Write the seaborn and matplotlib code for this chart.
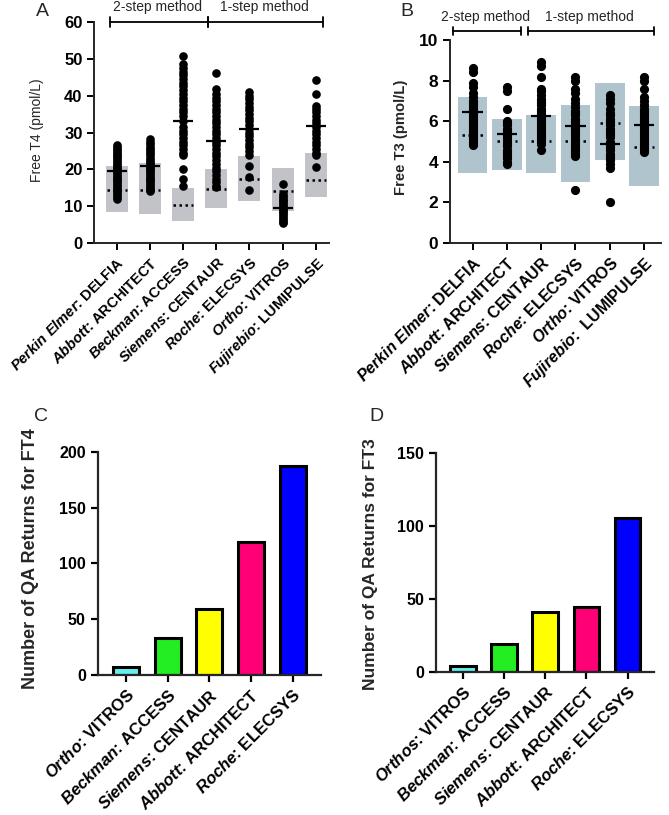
import numpy as np
import pandas as pd
import matplotlib
matplotlib.use("Agg")
import matplotlib.pyplot as plt
import seaborn as sns

# ── data: panel A (Free T4, pmol/L) ──────────────────────────────────────────
makers_a = ['Perkin Elmer', 'Abbott', 'Beckman', 'Siemens', 'Roche', 'Ortho', 'Fujirebio']
products_a = ['DELFIA', 'ARCHITECT', 'ACCESS', 'CENTAUR', 'ELECSYS', 'VITROS', 'LUMIPULSE']

ft4_perkin = [26.5, 26, 25.5, 25, 24.5, 24, 23.5, 23, 22.5, 22, 21.5, 21, 20.5, 20, 19.5,
              19, 18.5, 18, 17.5, 17, 16.5, 16, 15.5, 15, 14.5, 14, 13.5, 13, 12.5, 12]
ft4_abbott = [28.3, 27.5, 27, 26, 25.5, 25, 24.5, 24, 23, 22.5, 22, 21.5, 21, 20.5, 20,
              19.5, 19, 18.5, 18, 17.5, 17, 16.5, 16, 15.5, 15, 14.5, 14]
ft4_beckman = [50.8, 48.5, 47.5, 46.5, 45.5, 44.5, 43.5, 42.5, 41.5, 40.5, 39.5, 38.5, 37.5,
               36.5, 35.5, 34.5, 33, 31.6, 30.5, 29.5, 28.5, 27.5, 26.5, 25.5, 24.5, 23.8,
               20.2, 17.4, 15.5]
ft4_siemens = [46.2, 41.8, 40.5, 39.5, 38.5, 37.5, 36.5, 35.5, 34.5, 33.5, 32.5, 31.5, 30.5,
               29.5, 28.5, 27.5, 26.5, 25.5, 24.5, 23.5, 22.5, 21.5, 20.5, 19.5, 18.5, 17.5,
               16.5, 15.5, 15.1]
ft4_roche = [41, 40, 39, 38, 37, 36, 35, 34, 33, 32, 31, 30, 29, 28, 27, 26, 25, 24,
             21, 18, 14.3]
ft4_ortho = [16, 13.3, 12.8, 12.3, 11.8, 11.3, 10.8, 10.3, 9.8, 9.3, 8.8, 8.3, 7.8, 7.3,
             6.8, 6.3, 5.8, 5.4]
ft4_fuji = [44.2, 40.5, 37.3, 36.5, 35.5, 34.5, 33.5, 32.5, 31.5, 30.5, 29.5, 28.5, 27.5,
            26.5, 25.5, 24.5, 23.8, 20.6]

ft4_range_lo = [8.5, 7.9, 6.1, 9.6, 11.5, 8.8, 12.4]
ft4_range_hi = [20.9, 21.7, 14.9, 20.2, 23.6, 20.3, 24.4]
ft4_median = [19.6, 20.9, 33.2, 27.6, 30.9, 9.6, 31.7]
ft4_ref = [14.5, 14.5, 10.4, 14.8, 17.3, 14.2, 17.1]

# ── data: panel B (Free T3, pmol/L) ──────────────────────────────────────────
makers_b = ['Perkin Elmer', 'Abbott', 'Siemens', 'Roche', 'Ortho', 'Fujirebio']
products_b = ['DELFIA', 'ARCHITECT', 'CENTAUR', 'ELECSYS', 'VITROS', ' LUMIPULSE']

ft3_perkin = [8.6, 8.4, 7.9, 7.7, 7.4, 7.2, 7.0, 6.9, 6.8, 6.7, 6.6, 6.5, 6.4, 6.3, 6.2,
              6.1, 6.0, 5.9, 5.8, 5.7, 5.6, 5.5, 5.4, 5.3, 5.2, 5.1, 5.0, 4.9, 4.85]
ft3_abbott = [7.7, 7.5, 6.6, 6.0, 5.9, 5.8, 5.6, 5.5, 5.4, 5.3, 5.2, 5.1, 5.0, 4.9, 4.8,
              4.6, 4.5, 4.4, 4.3, 4.2, 4.0, 3.9]
ft3_siemens = [8.9, 8.7, 8.2, 7.6, 7.5, 7.3, 7.1, 7.0, 6.9, 6.8, 6.6, 6.5, 6.4, 6.3, 6.2,
               6.1, 6.0, 5.9, 5.8, 5.7, 5.6, 5.5, 5.4, 5.3, 5.2, 5.1, 5.0, 4.9, 4.6]
ft3_roche = [8.2, 8.0, 7.6, 7.4, 7.1, 6.9, 6.7, 6.5, 6.4, 6.3, 6.1, 6.0, 5.9, 5.8, 5.7,
             5.6, 5.5, 5.4, 5.3, 5.2, 5.1, 5.0, 4.9, 4.8, 4.7, 4.6, 4.5, 4.4, 4.3, 2.6]
ft3_ortho = [7.3, 7.1, 6.9, 6.6, 6.4, 6.3, 6.1, 6.0, 5.9, 5.8, 5.6, 5.5, 5.4, 5.3, 5.2,
             5.0, 4.9, 4.8, 4.7, 4.6, 4.4, 4.3, 4.2, 4.1, 3.9, 3.7, 2.0]
ft3_fuji = [8.2, 8.0, 7.6, 7.2, 7.0, 6.8, 6.6, 6.5, 6.4, 6.3, 6.2, 6.1, 6.0, 5.9, 5.8,
            5.7, 5.6, 5.5, 5.4, 5.3, 5.2, 5.1, 5.0, 4.9, 4.8, 4.7, 4.6, 4.5]

ft3_range_lo = [3.43, 3.62, 3.43, 3.02, 4.08, 2.81]
ft3_range_hi = [7.18, 6.12, 6.33, 6.82, 7.87, 6.73]
ft3_median = [6.45, 5.36, 6.24, 5.75, 4.87, 5.80]
ft3_ref = [5.31, 5.03, 5.03, 5.03, 5.91, 4.73]

# ── data: panels C and D (QA returns) ────────────────────────────────────────
makers_c = ['Ortho', 'Beckman', 'Siemens', 'Abbott', 'Roche']
products_c = ['VITROS', 'ACCESS', 'CENTAUR', 'ARCHITECT', 'ELECSYS']
qa_ft4 = [7, 33, 59, 119, 187]

makers_d = ['Orthos', 'Beckman', 'Siemens', 'Abbott', 'Roche']
products_d = ['VITROS', 'ACCESS', 'CENTAUR', 'ARCHITECT', 'ELECSYS']
qa_ft3 = [4, 19, 41, 44, 105]

bar_colors = ['#66eeee', '#22ee22', '#ffff00', '#ff0077', '#0000ff']

# ── style ────────────────────────────────────────────────────────────────────
sns.set_style('ticks')
plt.rcParams['font.family'] = ['Liberation Sans', 'DejaVu Sans']
plt.rcParams['mathtext.fontset'] = 'custom'
plt.rcParams['mathtext.it'] = 'Liberation Sans:italic:bold'
plt.rcParams['mathtext.rm'] = 'Liberation Sans:bold'
plt.rcParams['mathtext.bf'] = 'Liberation Sans:bold'


def tick_label(maker, product):
    return r'$\it{' + maker.replace(' ', r'\ ') + '}$: ' + product


def long_frame(groups, names):
    rows = []
    for name, vals in zip(names, groups):
        rows += [(name, v) for v in vals]
    return pd.DataFrame(rows, columns=['method', 'value'])


def style_axis(ax, lw):
    sns.despine(ax=ax)
    for s in ('left', 'bottom'):
        ax.spines[s].set_linewidth(lw)
    ax.tick_params(width=lw, length=5, colors='black')


def dot_panel(ax, groups, makers, products, lo, hi, med, ref, box_color,
              box_w, dot_size, ymax, yticks, ylab, xfs, yfs):
    names = [m + ': ' + p for m, p in zip(makers, products)]
    df = long_frame(groups, names)
    pos = np.arange(len(names))
    ax.bar(pos, np.array(hi) - np.array(lo), bottom=lo, width=box_w,
           color=box_color, edgecolor='none', zorder=1)
    sns.stripplot(data=df, x='method', y='value', order=names, jitter=False,
                  color='black', size=dot_size, linewidth=0, ax=ax, zorder=2)
    ax.hlines(med, pos - 0.3, pos + 0.3, color='black', lw=1.6, zorder=3)
    ax.hlines(ref, pos - 0.3, pos + 0.3, color='black', lw=1.8,
              linestyles=(0, (1, 1.4)), zorder=3)
    ax.set_ylim(0, ymax)
    ax.set_yticks(yticks)
    ax.set_xticks(pos)
    ax.set_xticklabels([tick_label(m, p) for m, p in zip(makers, products)],
                       rotation=45, ha='right', rotation_mode='anchor',
                       fontsize=xfs, fontweight='bold')
    ax.set_xlabel('')
    ax.set_ylabel(ylab)
    for t in ax.get_yticklabels():
        t.set_fontweight('bold')
        t.set_fontsize(yfs)


def bracket(ax, segments, y, cap):
    for x0, x1 in segments:
        ax.plot([x0, x1], [y, y], color='black', lw=1.3, clip_on=False)
        for xx in (x0, x1):
            ax.plot([xx, xx], [y - cap, y + cap], color='black', lw=1.3, clip_on=False)


fig = plt.figure(figsize=(6.69, 8.15), dpi=100)

# ── A ────────────────────────────────────────────────────────────────────────
ax_a = fig.add_axes([0.141, 0.7018, 0.351, 0.2712])
dot_panel(ax_a, [ft4_perkin, ft4_abbott, ft4_beckman, ft4_siemens, ft4_roche, ft4_ortho, ft4_fuji],
          makers_a, products_a, ft4_range_lo, ft4_range_hi, ft4_median, ft4_ref,
          '#c2c3c8', 0.66, 6.2, 60, np.arange(0, 61, 10), 'Free T4 (pmol/L)', 10.5, 12)
ax_a.set_xlim(-0.67, 6.4)
ax_a.yaxis.label.set_fontsize(10)
ax_a.yaxis.set_label_coords(-0.215, 0.51)
style_axis(ax_a, 1.4)
bracket(ax_a, [(-0.2, 2.76), (2.76, 6.2)], 60, 1.3)
ax_a.text(1.23, 64.2, '2-step method', ha='center', va='center', fontsize=10)
ax_a.text(4.45, 64.2, '1-step method', ha='center', va='center', fontsize=10)

# ── B ────────────────────────────────────────────────────────────────────────
ax_b = fig.add_axes([0.6726, 0.7018, 0.3158, 0.2491])
dot_panel(ax_b, [ft3_perkin, ft3_abbott, ft3_siemens, ft3_roche, ft3_ortho, ft3_fuji],
          makers_b, products_b, ft3_range_lo, ft3_range_hi, ft3_median, ft3_ref,
          '#b0c4ce', 0.86, 6.6, 10, np.arange(0, 11, 2), 'Free T3 (pmol/L)', 11.5, 12.5)
ax_b.set_xlim(-0.66, 5.5)
ax_b.yaxis.label.set_fontsize(10.7)
ax_b.yaxis.label.set_fontweight('bold')
ax_b.yaxis.set_label_coords(-0.2, 0.52)
style_axis(ax_b, 1.4)
bracket(ax_b, [(-0.58, 1.40), (1.62, 5.29)], 10.44, 0.2)
ax_b.text(0.38, 11.13, '2-step method', ha='center', va='center', fontsize=10)
ax_b.text(3.41, 11.13, '1-step method', ha='center', va='center', fontsize=10)


# ── C and D ──────────────────────────────────────────────────────────────────
def bar_panel(ax, makers, products, vals, ymax, yticks, ylab, lfs):
    names = [m + ': ' + p for m, p in zip(makers, products)]
    df = pd.DataFrame({'method': names, 'n': vals})
    sns.barplot(data=df, x='method', y='n', order=names, hue='method',
                palette=bar_colors, legend=False, width=0.62, saturation=1,
                edgecolor='black', linewidth=2.2, ax=ax)
    ax.set_ylim(0, ymax)
    ax.set_yticks(yticks)
    ax.set_xticks(range(len(names)))
    ax.set_xticklabels([tick_label(m, p) for m, p in zip(makers, products)],
                       rotation=45, ha='right', rotation_mode='anchor',
                       fontsize=12, fontweight='bold')
    ax.set_xlabel('')
    ax.set_ylabel(ylab, fontsize=lfs, fontweight='bold')
    for t in ax.get_yticklabels():
        t.set_fontweight('bold')
        t.set_fontsize(11.5)
    style_axis(ax, 1.6)


ax_c = fig.add_axes([0.146, 0.1718, 0.3333, 0.2736])
bar_panel(ax_c, makers_c, products_c, qa_ft4, 200, [0, 50, 100, 150, 200],
          'Number of QA Returns for FT4', 13)
ax_c.set_xlim(-0.68, 4.67)
ax_c.yaxis.set_label_coords(-0.263, 0.52)

ax_d = fig.add_axes([0.6517, 0.1758, 0.3258, 0.2687])
bar_panel(ax_d, makers_d, products_d, qa_ft3, 150, [0, 50, 100, 150],
          'Number of QA Returns for FT3', 12.5)
ax_d.set_xlim(-0.65, 4.64)
ax_d.yaxis.set_label_coords(-0.266, 0.49)

# panel letters
for letter, x, y in [('A', 42, 11), ('B', 407, 11), ('C', 41, 416), ('D', 376, 416)]:
    fig.text(x / 669, 1 - y / 815, letter, fontsize=14, ha='center', va='center')

fig.savefig('out.png', dpi=100)
